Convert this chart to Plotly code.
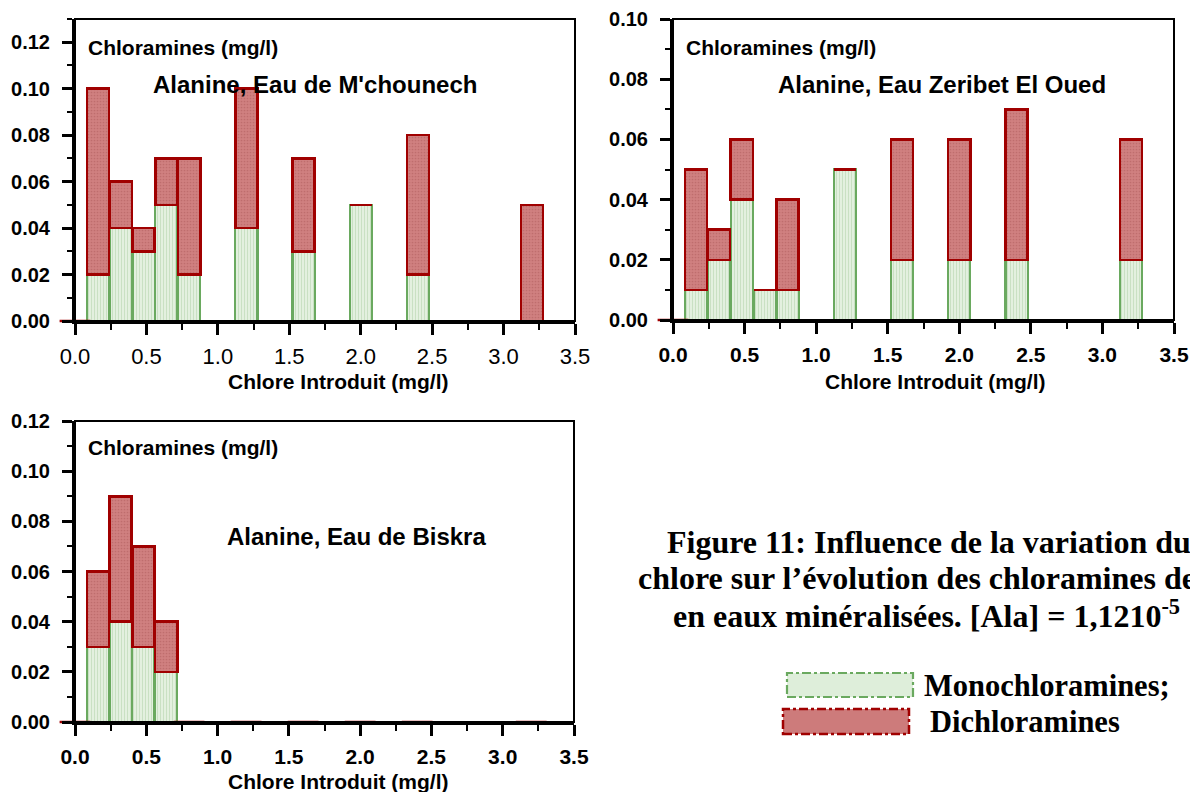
import plotly.graph_objects as go

W, H = 1190, 792

# ---------------- data ----------------
chlore = [0, 0.16, 0.32, 0.48, 0.64, 0.8, 1.2, 1.6, 2.0, 2.4, 3.2]

mchounech_mono = [0, 0.02, 0.04, 0.03, 0.05, 0.02, 0.04, 0.03, 0.05, 0.02, 0]
mchounech_di   = [0, 0.08, 0.02, 0.01, 0.02, 0.05, 0.06, 0.04, 0.00, 0.06, 0.05]

zeribet_mono = [0, 0.01, 0.02, 0.04, 0.01, 0.01, 0.05, 0.02, 0.02, 0.02, 0.02]
zeribet_di   = [0, 0.04, 0.01, 0.02, 0.00, 0.03, 0.00, 0.04, 0.04, 0.05, 0.04]

biskra_mono = [0, 0.03, 0.04, 0.03, 0.02, 0, 0, 0, 0, 0, 0]
biskra_di   = [0, 0.03, 0.05, 0.04, 0.02, 0, 0, 0, 0, 0, 0]

panel_titles = ["Alanine, Eau de M'chounech", "Alanine, Eau Zeribet El Oued", "Alanine, Eau de Biskra"]
y_label = "Chloramines (mg/l)"
x_label = "Chlore Introduit (mg/l)"
series_names = ["Monochloramines;", "Dichloramines"]
caption = ["Figure 11: Influence de la variation du",
           "chlore sur l\u2019\u00e9volution des chloramines de",
           "en eaux min\u00e9ralis\u00e9es. [Ala] = 1,1210<sup>-5</sup>"]

# ---------------- style ----------------
GREEN_LINE = "#6aa95f"
GREEN_BG = "#e3f0df"
GREEN_FG = "#c9e0c3"
RED_LINE = "#a00000"
RED_BG = "#d08080"
RED_FG = "#bf6d6d"
SANS = "Liberation Sans, Arial, sans-serif"
SERIF = "Liberation Serif, Times New Roman, serif"

def px(x):
    return x / W

def py(y):
    return 1 - y / H

fig = go.Figure()

panels = [
    dict(mono=mchounech_mono, di=mchounech_di, xa="x", ya="y",
         dom_x=(75, 575), dom_y=(19, 321), yr=0.13, bold_x=False),
    dict(mono=zeribet_mono, di=zeribet_di, xa="x2", ya="y2",
         dom_x=(673, 1174), dom_y=(19, 320), yr=0.10, bold_x=True),
    dict(mono=biskra_mono, di=biskra_di, xa="x3", ya="y3",
         dom_x=(75, 574), dom_y=(421, 722), yr=0.12, bold_x=True),
]

BAR_W = 0.155

for i, p in enumerate(panels):
    fig.add_trace(go.Bar(
        x=chlore, y=p["mono"], width=BAR_W, name=series_names[0],
        xaxis=p["xa"], yaxis=p["ya"], showlegend=False,
        marker=dict(color=GREEN_BG, line=dict(color=GREEN_LINE, width=2.2),
                    pattern=dict(shape="|", fgcolor=GREEN_FG, bgcolor=GREEN_BG,
                                 size=3, solidity=0.35)),
    ))
    fig.add_trace(go.Bar(
        x=chlore, y=p["di"], width=BAR_W, name=series_names[1],
        xaxis=p["xa"], yaxis=p["ya"], showlegend=False,
        marker=dict(color=RED_BG, line=dict(color=RED_LINE, width=2.5),
                    pattern=dict(shape=".", fgcolor=RED_FG, bgcolor=RED_BG,
                                 size=3, solidity=0.25)),
    ))
    # points where both values are zero: flat red dash on the baseline
    zx = [x for x, m, d in zip(chlore, p["mono"], p["di"]) if m + d == 0]
    fig.add_trace(go.Scatter(
        x=zx, y=[0] * len(zx), mode="markers", cliponaxis=False,
        xaxis=p["xa"], yaxis=p["ya"], showlegend=False, hoverinfo="skip",
        marker=dict(symbol="line-ew", size=22, color=RED_LINE,
                    line=dict(color=RED_LINE, width=2.5)),
    ))

layout = dict(
    template="none",
    width=W, height=H, autosize=False, margin=dict(l=0, r=0, t=0, b=0, pad=0),
    paper_bgcolor="white", plot_bgcolor="white",
    barmode="stack", showlegend=False,
)

for i, p in enumerate(panels):
    sfx = "" if i == 0 else str(i + 1)
    xdom = [px(p["dom_x"][0]), px(p["dom_x"][1])]
    ydom = [py(p["dom_y"][1]), py(p["dom_y"][0])]
    layout["xaxis" + sfx] = dict(
        domain=xdom, range=[0, 3.5], dtick=0.5, tick0=0, tickformat=".1f",
        anchor="y" + sfx, showgrid=False, zeroline=False, automargin=False,
        showline=True, linecolor="black", linewidth=3,
        ticks="outside", ticklen=11, tickwidth=2.5, tickcolor="black",
        minor=dict(dtick=0.25, ticks="outside", ticklen=6, tickwidth=2, tickcolor="black"),
        tickfont=dict(family=SANS, size=22 if not p["bold_x"] else 21,
                      color="black", weight="bold" if p["bold_x"] else "normal"),
        ticklabelstandoff=3, fixedrange=True,
    )
    layout["yaxis" + sfx] = dict(
        domain=ydom, range=[0, p["yr"]], dtick=0.02, tick0=0, tickformat=".2f",
        anchor="x" + sfx, showgrid=False, zeroline=False, automargin=False,
        showline=True, linecolor="black", linewidth=3,
        ticks="outside", ticklen=10, tickwidth=2.5, tickcolor="black",
        minor=dict(dtick=0.01, ticks="outside", ticklen=5, tickwidth=2, tickcolor="black"),
        tickfont=dict(family=SANS, size=20, color="black", weight="bold"),
        ticklabelstandoff=8, fixedrange=True,
    )

fig.update_layout(**layout)

shapes = []
annotations = []
for i, p in enumerate(panels):
    sfx = "" if i == 0 else str(i + 1)
    # thinner top/right frame
    shapes.append(dict(type="rect", xref="x" + sfx + " domain", yref="y" + sfx + " domain",
                       x0=0, x1=1, y0=0, y1=1, line=dict(color="black", width=2),
                       fillcolor="rgba(0,0,0,0)", layer="above"))

label_pos = [(86, 47), (684, 47), (86, 447)]
title_pos = [(314.5, 85), (941.5, 85), (356, 536)]
xlab_pos = [(337.5, 382), (935, 382), (337.5, 781)]
for i in range(3):
    annotations.append(dict(text=y_label, xref="paper", yref="paper",
                            x=px(label_pos[i][0]), y=py(label_pos[i][1]),
                            xanchor="left", yanchor="middle", showarrow=False,
                            font=dict(family=SANS, size=21, color="black", weight="bold")))
    annotations.append(dict(text=panel_titles[i], xref="paper", yref="paper",
                            x=px(title_pos[i][0]), y=py(title_pos[i][1]),
                            xanchor="center", yanchor="middle", showarrow=False,
                            font=dict(family=SANS, size=24, color="black", weight="bold")))
    annotations.append(dict(text=x_label, xref="paper", yref="paper",
                            x=px(xlab_pos[i][0]), y=py(xlab_pos[i][1]),
                            xanchor="center", yanchor="middle", showarrow=False,
                            font=dict(family=SANS, size=21, color="black", weight="bold")))

cap_pos = [(665, 542), (636, 578), (671, 614)]
for txt, (cx, cy) in zip(caption, cap_pos):
    annotations.append(dict(text=txt, xref="paper", yref="paper",
                            x=px(cx), y=py(cy), xanchor="left", yanchor="middle",
                            showarrow=False,
                            font=dict(family=SERIF, size=32, color="black", weight="bold")))

# legend swatches and labels
shapes.append(dict(type="rect", xref="paper", yref="paper",
                   x0=px(787), x1=px(913), y0=py(697), y1=py(673),
                   fillcolor="#deeeda", line=dict(color=GREEN_LINE, width=2.2, dash="dashdot")))
shapes.append(dict(type="rect", xref="paper", yref="paper",
                   x0=px(783), x1=px(909), y0=py(734), y1=py(709),
                   fillcolor="#cd7b7b", line=dict(color=RED_LINE, width=2.5, dash="dashdot")))
annotations.append(dict(text=series_names[0], xref="paper", yref="paper",
                        x=px(922), y=py(686), xanchor="left", yanchor="middle", showarrow=False,
                        font=dict(family=SERIF, size=30.5, color="black", weight="bold")))
annotations.append(dict(text=series_names[1], xref="paper", yref="paper",
                        x=px(928), y=py(722), xanchor="left", yanchor="middle", showarrow=False,
                        font=dict(family=SERIF, size=30.5, color="black", weight="bold")))

fig.update_layout(shapes=shapes, annotations=annotations)

fig.write_html("out.html")
